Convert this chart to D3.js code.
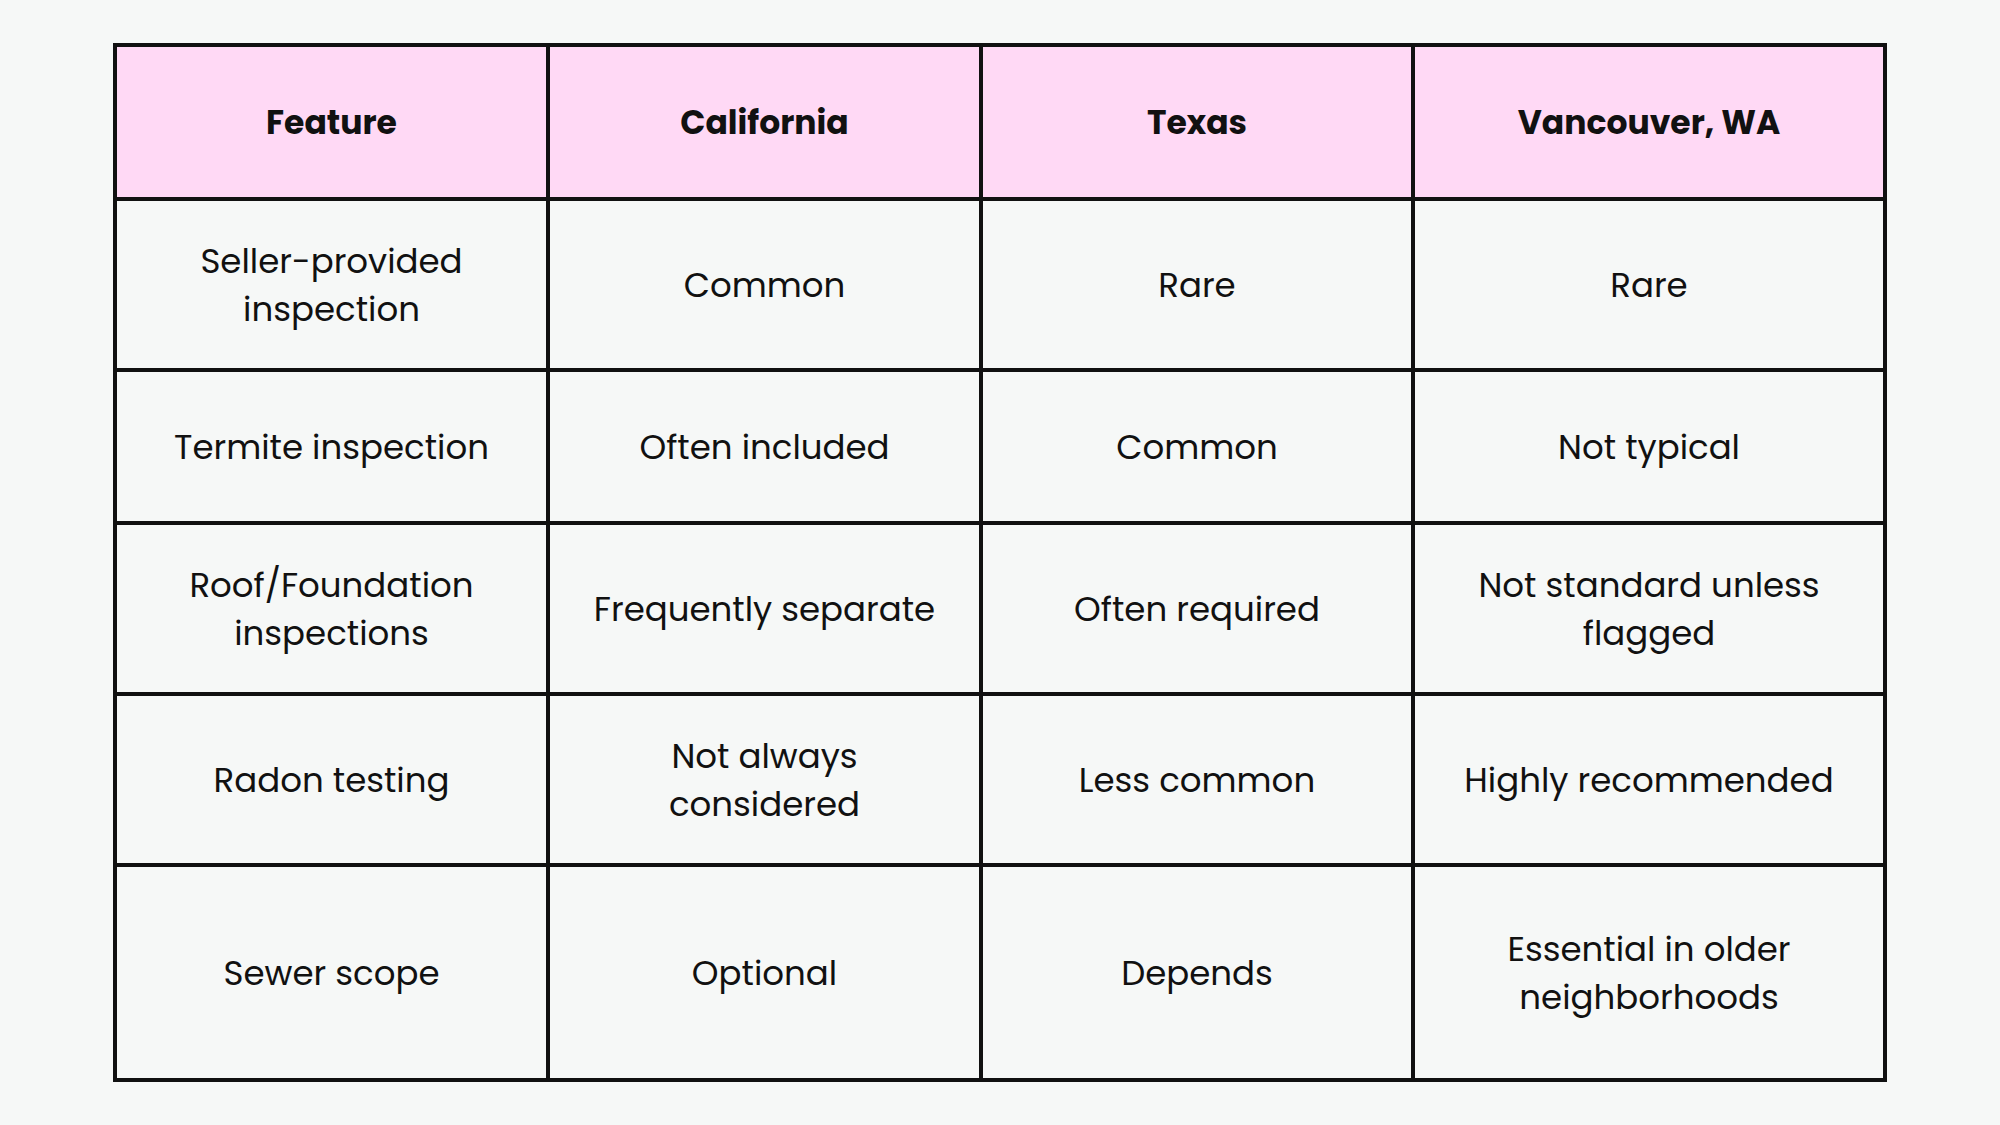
<!DOCTYPE html>
<html><head><meta charset="utf-8">
<script src="https://cdn.jsdelivr.net/npm/d3@7"></script>
<style>body{margin:0;background:#f6f8f7;}</style>
</head><body>
<svg id="chart" width="2000" height="1125"></svg>
<script>
// table content
const columns = ["Feature", "California", "Texas", "Vancouver, WA"];
const features = [["Seller-provided", "inspection"], ["Termite inspection"], ["Roof/Foundation", "inspections"], ["Radon testing"], ["Sewer scope"]];
const california = [["Common"], ["Often included"], ["Frequently separate"], ["Not always", "considered"], ["Optional"]];
const texas = [["Rare"], ["Common"], ["Often required"], ["Less common"], ["Depends"]];
const vancouver = [["Rare"], ["Not typical"], ["Not standard unless", "flagged"], ["Highly recommended"], ["Essential in older", "neighborhoods"]];

const colEdges = [115, 548, 981, 1413, 1885];
const rowEdges = [45, 199, 370, 523, 694, 865, 1080];

const svg = d3.select("#chart");
svg.append("rect").attr("width", 2000).attr("height", 1125).attr("fill", "#f6f8f7");

const rows = features.map((f, i) => [f, california[i], texas[i], vancouver[i]]);
const font = "Poppins, Inter, 'Open Sans', sans-serif";

// header
svg.append("rect").attr("x", colEdges[0]).attr("y", rowEdges[0])
  .attr("width", colEdges[4] - colEdges[0]).attr("height", rowEdges[1] - rowEdges[0])
  .attr("fill", "#ffd9f5");
columns.forEach((c, j) => {
  svg.append("text")
    .attr("x", (colEdges[j] + colEdges[j + 1]) / 2)
    .attr("y", (rowEdges[0] + rowEdges[1]) / 2)
    .attr("text-anchor", "middle").attr("dominant-baseline", "central")
    .attr("font-family", font).attr("font-weight", 700).attr("font-size", 33)
    .attr("fill", "#111").text(c);
});

// body cells
const lineH = 48;
rows.forEach((r, i) => {
  const cy = (rowEdges[i + 1] + rowEdges[i + 2]) / 2;
  r.forEach((lines, j) => {
    const t = svg.append("text")
      .attr("text-anchor", "middle")
      .attr("font-family", font).attr("font-size", 34).attr("fill", "#111");
    lines.forEach((ln, k) => {
      t.append("tspan")
        .attr("x", (colEdges[j] + colEdges[j + 1]) / 2)
        .attr("y", cy + (k - (lines.length - 1) / 2) * lineH)
        .attr("dominant-baseline", "central")
        .text(ln);
    });
  });
});

// grid lines
svg.selectAll("line.h").data(rowEdges).join("line")
  .attr("x1", colEdges[0]).attr("x2", colEdges[4])
  .attr("y1", d => d).attr("y2", d => d)
  .attr("stroke", "#111").attr("stroke-width", 4);
svg.selectAll("line.v").data(colEdges).join("line")
  .attr("y1", rowEdges[0] - 2).attr("y2", rowEdges[6] + 2)
  .attr("x1", d => d).attr("x2", d => d)
  .attr("stroke", "#111").attr("stroke-width", 4);
</script>
</body></html>
